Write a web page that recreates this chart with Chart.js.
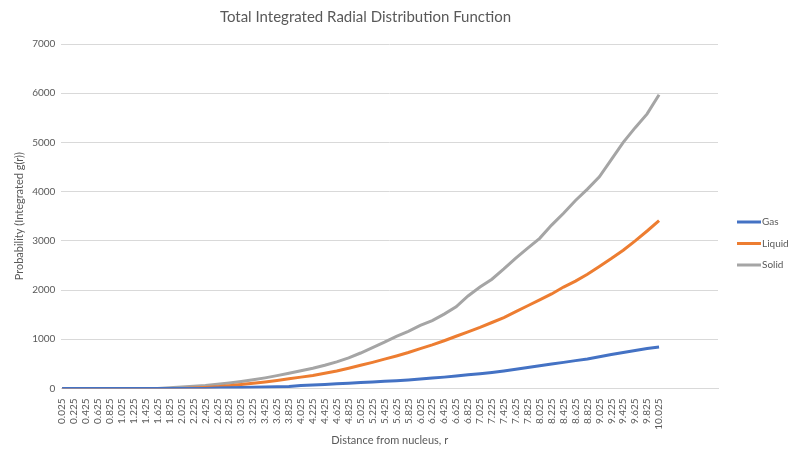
<!DOCTYPE html>
<html>
<head>
<meta charset="utf-8">
<script src="https://cdn.jsdelivr.net/npm/chart.js@4"></script>
<style>
  html, body { margin: 0; padding: 0; background: #fff; }
  #wrap { width: 800px; height: 456px; }
</style>
</head>
<body>
<div id="wrap"><canvas id="rdfChart" width="800" height="456"></canvas></div>
<script>
// distance from nucleus (also the labelled ticks)
const radius = [
  0.025, 0.225, 0.425, 0.625, 0.825, 1.025, 1.225, 1.425, 1.625, 1.825,
  2.025, 2.225, 2.425, 2.625, 2.825, 3.025, 3.225, 3.425, 3.625, 3.825,
  4.025, 4.225, 4.425, 4.625, 4.825, 5.025, 5.225, 5.425, 5.625, 5.825,
  6.025, 6.225, 6.425, 6.625, 6.825, 7.025, 7.225, 7.425, 7.625, 7.825,
  8.025, 8.225, 8.425, 8.625, 8.825, 9.025, 9.225, 9.425, 9.625, 9.825,
  10.025
];

const gas = [
  0, 0, 0, 0, 0, 0, 0, 0, 0, 0,
  0, 0, 0, 10, 15, 20, 25, 30, 35, 40,
  60, 70, 80, 95, 105, 120, 130, 145, 155, 170,
  190, 210, 230, 255, 280, 300, 325, 355, 390, 425,
  460, 495, 530, 565, 600, 645, 690, 730, 770, 810,
  840
];

const liquid = [
  0, 0, 0, 0, 0, 0, 0, 0, 0, 0,
  0, 10, 20, 35, 55, 80, 105, 130, 160, 195,
  230, 265, 310, 355, 410, 470, 530, 595, 660, 730,
  810, 885, 970, 1060, 1150, 1240, 1340, 1440, 1560, 1680,
  1800, 1920, 2060, 2180, 2320, 2480, 2640, 2810, 3000, 3200,
  3410
];

const solid = [
  0, 0, 0, 0, 0, 0, 0, 0, 0, 15,
  30, 45, 60, 85, 110, 140, 175, 215, 260, 310,
  360, 410, 470, 540, 620, 720, 830, 940, 1060, 1160,
  1280, 1380, 1510, 1660, 1880, 2060, 2220, 2430, 2650, 2850,
  3050, 3320, 3560, 3820, 4050, 4300, 4650, 5000, 5300, 5580,
  5970
];

const textColor = "#595959";
const gridColor = "#d9d9d9";
const fontFamily = "Lato, 'Open Sans', sans-serif";

function toPoints(values) {
  return radius.map((r, i) => ({ x: r, y: values[i] }));
}

function makeSet(label, values, color) {
  return {
    label: label,
    data: toPoints(values),
    borderColor: color,
    backgroundColor: color,
    borderWidth: 3,
    pointRadius: 0,
    tension: 0,
  };
}

// Excel-style legend drawn in the right margin
const sideLegend = {
  id: "sideLegend",
  afterDraw(chart) {
    const c = chart.ctx;
    const sets = chart.data.datasets;
    const startX = 737;
    const startY = 222;
    const gap = 21.5;
    c.save();
    c.font = "10px " + fontFamily;
    c.textBaseline = "middle";
    c.fillStyle = textColor;
    sets.forEach((ds, i) => {
      const y = startY + i * gap;
      c.strokeStyle = ds.borderColor;
      c.lineWidth = 3;
      c.beginPath();
      c.moveTo(startX, y);
      c.lineTo(startX + 24, y);
      c.stroke();
      c.fillText(ds.label, startX + 25, y);
    });
    c.restore();
  },
};

const ctx = document.getElementById("rdfChart").getContext("2d");

new Chart(ctx, {
  type: "line",
  data: {
    datasets: [
      makeSet("Gas", gas, "#4472C4"),
      makeSet("Liquid", liquid, "#ED7D31"),
      makeSet("Solid", solid, "#A5A5A5"),
    ],
  },
  options: {
    responsive: false,
    animation: false,
    layout: { padding: { left: 13, right: 82, top: 6, bottom: 9 } },
    plugins: {
      title: {
        display: true,
        text: "Total Integrated Radial Distribution Function",
        color: textColor,
        font: { family: fontFamily, size: 15, weight: "normal" },
        padding: { top: 2, bottom: 18 },
      },
      legend: { display: false },
      tooltip: { enabled: false },
    },
    scales: {
      x: {
        type: "linear",
        min: 0.0125,
        max: 11.0125,
        afterBuildTicks: (axis) => {
          axis.ticks = radius.map((v) => ({ value: v }));
        },
        ticks: {
          autoSkip: false,
          maxRotation: 90,
          minRotation: 90,
          color: textColor,
          font: { family: fontFamily, size: 10 },
          padding: 2,
          callback: (v) => Number(v).toFixed(3),
        },
        grid: { display: false },
        border: { color: gridColor },
        title: {
          display: true,
          text: "Distance from nucleus, r",
          color: textColor,
          font: { family: fontFamily, size: 11 },
          padding: { top: 2, bottom: 0 },
        },
      },
      y: {
        min: 0,
        max: 7000,
        ticks: {
          stepSize: 1000,
          color: textColor,
          font: { family: fontFamily, size: 10 },
          padding: 6,
          callback: (v) => String(v),
        },
        grid: { color: gridColor, lineWidth: 1, drawTicks: false },
        border: { display: false },
        title: {
          display: true,
          text: "Probability (Integrated g(r))",
          color: textColor,
          font: { family: fontFamily, size: 11 },
          padding: { top: 0, bottom: 0 },
        },
      },
    },
  },
  plugins: [sideLegend],
});
</script>
</body>
</html>
